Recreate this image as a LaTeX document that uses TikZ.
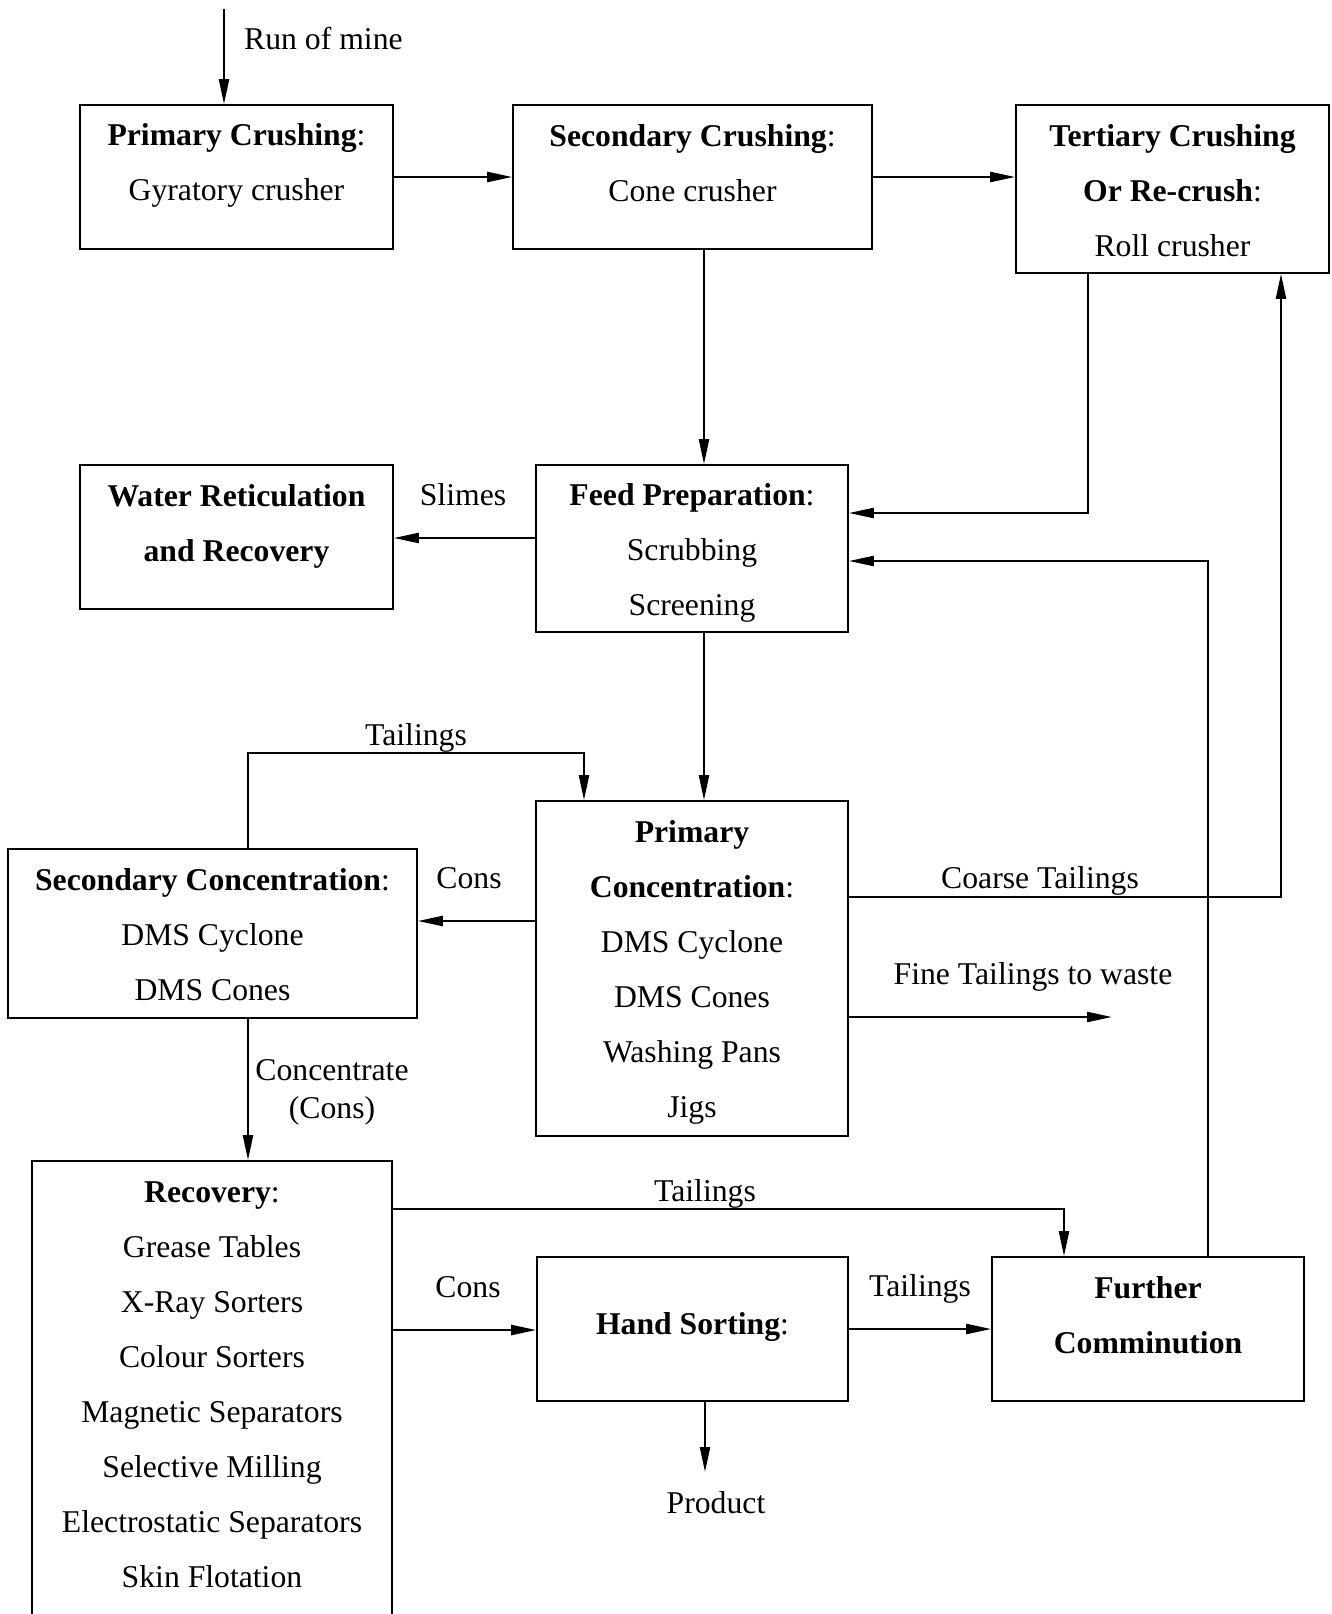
\documentclass[tikz,border=0pt]{standalone}
\usepackage{fontspec}
\setmainfont{Liberation Serif}
\usetikzlibrary{arrows.meta}
\begin{document}
\begin{tikzpicture}[x=1pt,y=-1pt,
  box/.style={draw,line width=1.6pt,rectangle,inner sep=0pt},
  txt/.style={inner sep=0pt,align=center,font=\fontsize{31.7}{55}\selectfont},
  lbl/.style={inner sep=0pt,align=center,font=\fontsize{31.7}{38}\selectfont},
  arr/.style={line width=2.3pt,-{Triangle[length=25pt,width=10pt]}},
  ln/.style={line width=2.3pt}]
\useasboundingbox (0,0) rectangle (1331,1614);
\clip (0,0) rectangle (1331,1614);
% boxes
\node[box,minimum width=313pt,minimum height=144pt] (pc) at (236.5,177) {};
\node[box,minimum width=359pt,minimum height=144pt] (sc) at (692.5,177) {};
\node[box,minimum width=313pt,minimum height=168pt] (tc) at (1172.5,189) {};
\node[box,minimum width=313pt,minimum height=144pt] (wr) at (236.5,537) {};
\node[box,minimum width=312pt,minimum height=167pt] (fp) at (692,548.5) {};
\node[box,minimum width=409pt,minimum height=169pt] (scn) at (212.5,933.5) {};
\node[box,minimum width=312pt,minimum height=335pt] (pcn) at (692,968.5) {};
\node[box,minimum width=360pt,minimum height=479pt] (rec) at (212,1400.5) {};
\node[box,minimum width=311pt,minimum height=144pt] (hs) at (692.5,1329) {};
\node[box,minimum width=312pt,minimum height=144pt] (fc) at (1148,1329) {};
% box texts
\node[txt] (pct) at (236.5,165) {\textbf{Primary Crushing}:\\Gyratory crusher};
\node[txt] (sct) at (692.5,163) {\textbf{Secondary Crushing}:\\Cone crusher};
\node[txt] (tct) at (1172.5,191) {\textbf{Tertiary Crushing}\\\textbf{Or Re-crush}:\\Roll crusher};
\node[txt] (wrt) at (236.5,526) {\textbf{Water Reticulation}\\\textbf{and Recovery}};
\node[txt] (fpt) at (692,553) {\textbf{Feed Preparation}:\\Scrubbing\\Screening};
\node[txt] (scnt) at (212.5,934.5) {\textbf{Secondary Concentration}:\\DMS Cyclone\\DMS Cones};
\node[txt] (pcnt) at (692,972.5) {\textbf{Primary}\\\textbf{Concentration}:\\DMS Cyclone\\DMS Cones\\Washing Pans\\Jigs};
\node[txt] (rect) at (212,1384.5) {\textbf{Recovery}:\\Grease Tables\\X-Ray Sorters\\Colour Sorters\\Magnetic Separators\\Selective Milling\\Electrostatic Separators\\Skin Flotation};
\node[txt] (hst) at (692.5,1327) {\textbf{Hand Sorting}:};
\node[txt] (fct) at (1148,1315.5) {\textbf{Further}\\\textbf{Comminution}};
% labels
\node[lbl,anchor=west] (lrom) at (244,38) {Run of mine};
\node[lbl] (lslimes) at (463,495) {Slimes};
\node[lbl] (ltail1) at (416,738) {Tailings};
\node[lbl] (lcons1) at (469,878) {Cons};
\node[lbl] (lcoarse) at (1040,881) {Coarse Tailings};
\node[lbl] (lfine) at (1033,977) {Fine Tailings to waste};
\node[lbl] (lconc) at (332,1092) {Concentrate\\(Cons)};
\node[lbl] (ltail2) at (705,1194) {Tailings};
\node[lbl] (lcons2) at (468,1287) {Cons};
\node[lbl] (ltail3) at (920,1289) {Tailings};
\node[lbl] (lprod) at (716,1503) {Product};
% free ends
\coordinate (romtop) at (224,9);
\coordinate (fineend) at (1112,1017);
\coordinate (prodend) at (705,1472);
% connectors
\draw[arr] (romtop) -- (pc.north -| romtop);
\draw[arr] (pc.east) -- (sc.west);
\draw[arr] (sc.east) -- (sc.east -| tc.west);
\draw[arr] (sc.south -| 704,0) -- (fp.north -| 704,0);
\draw[arr] (tc.south -| 1088,0) |- (fp.east |- 0,513);
\draw[arr] (fc.north -| 1208,0) |- (fp.east |- 0,561);
\draw[arr] (fp.west |- 0,538) -- (wr.east |- 0,538);
\draw[arr] (fp.south -| 704,0) -- (pcn.north -| 704,0);
\draw[arr] (scn.north -| 248,0) |- (584,753) -- (pcn.north -| 584,0);
\draw[arr] (pcn.west |- 0,921) -- (scn.east |- 0,921);
\draw[arr] (pcn.east |- 0,897) -| (tc.south -| 1281,0);
\draw[arr] (pcn.east |- 0,1017) -- (fineend);
\draw[arr] (scn.south -| 248,0) -- (rec.north -| 248,0);
\draw[arr] (rec.east |- 0,1209) -| (fc.north -| 1064,0);
\draw[arr] (rec.east |- 0,1330) -- (hs.west |- 0,1330);
\draw[arr] (hs.east |- 0,1329) -- (fc.west |- 0,1329);
\draw[arr] (hs.south -| 705,0) -- (prodend);
\end{tikzpicture}
\end{document}
